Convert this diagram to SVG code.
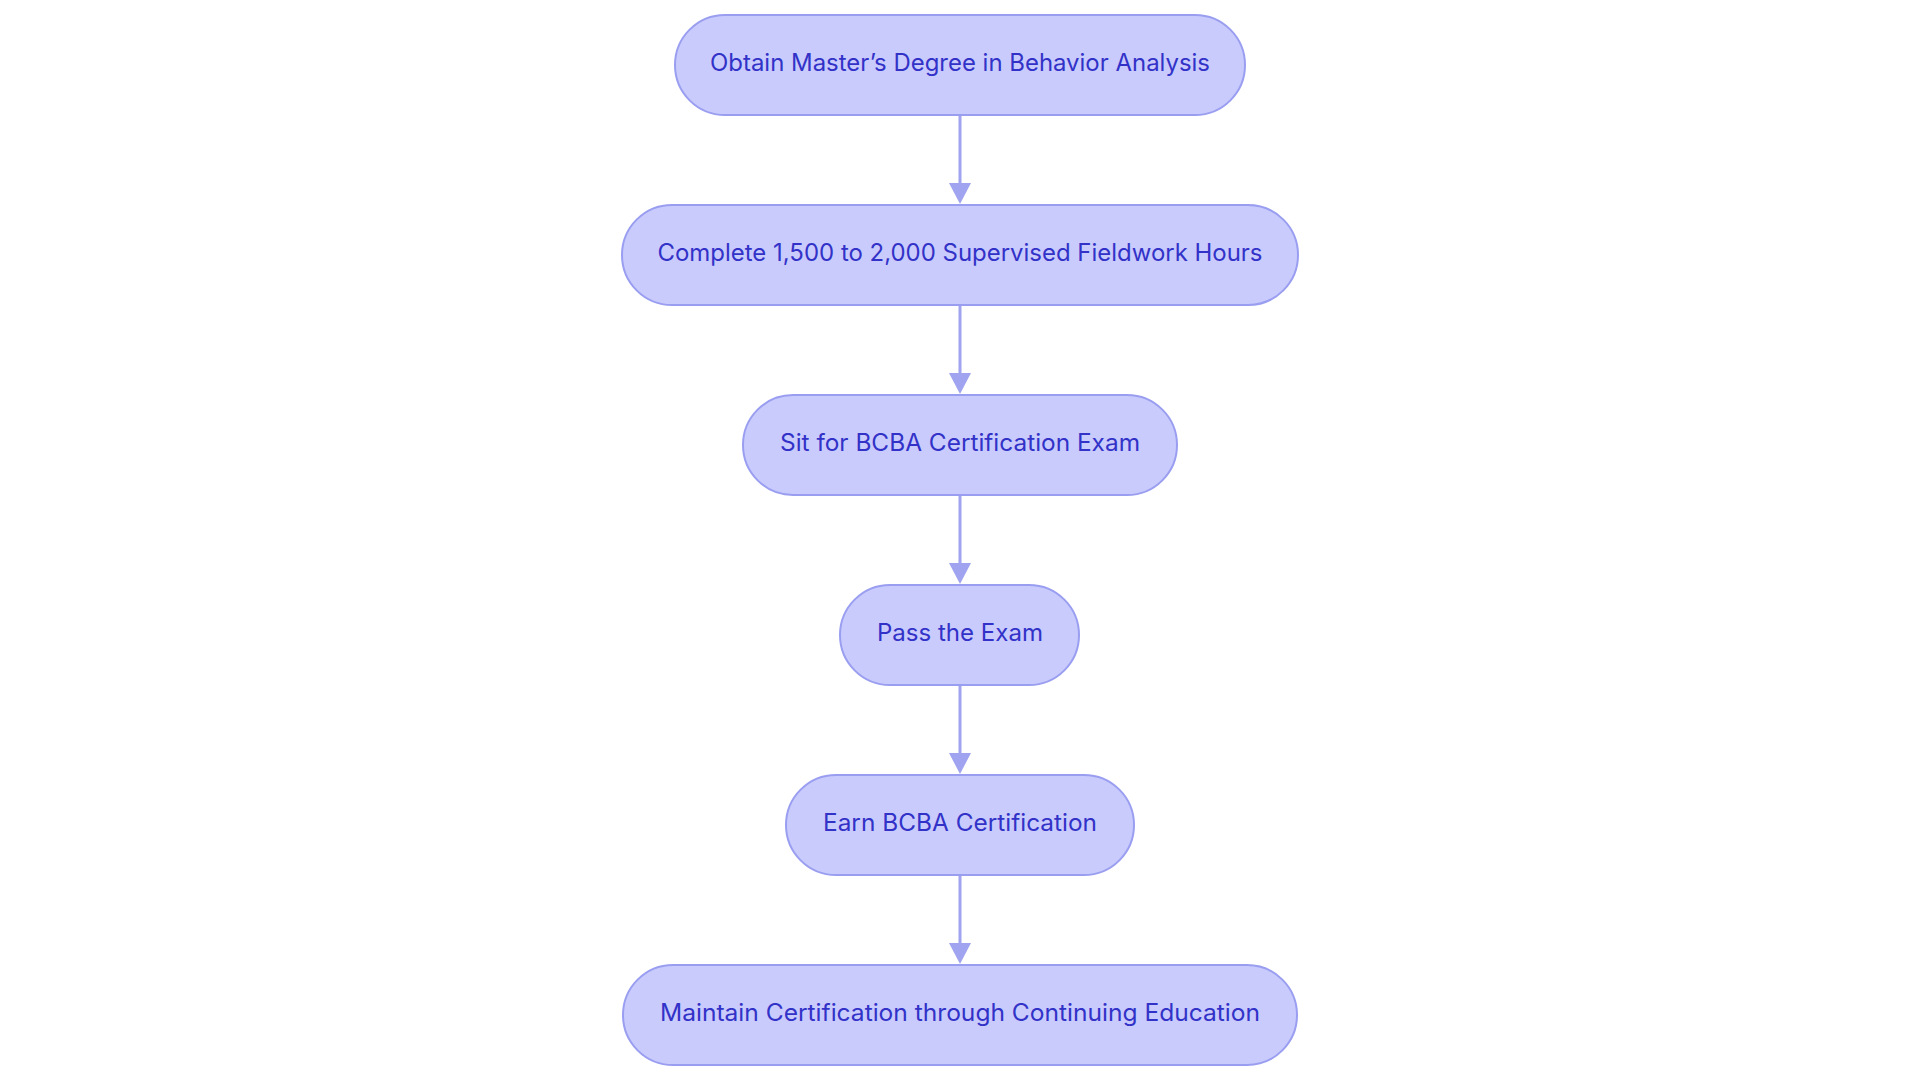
<svg xmlns="http://www.w3.org/2000/svg" width="1920" height="1083" viewBox="0 0 1920 1083">
<defs>
<style>
.node rect{fill:#c9cbfd;stroke:#9a9ef0;stroke-width:2}
.node text{font-family:"Inter","Noto Sans",sans-serif;font-size:24px;font-weight:400;fill:#3232c8;text-anchor:middle}
.edge{stroke:#9fa3f0;stroke-width:3;fill:none}
.head{fill:#9fa3f0}
</style>
</defs>
<rect width="1920" height="1083" fill="#ffffff"/>
<g id="connectors">
<line class="edge" x1="960" y1="115" x2="960" y2="183"/><path class="head" d="M949,183 L971,183 L960,204 Z"/>
<line class="edge" x1="960" y1="305" x2="960" y2="373"/><path class="head" d="M949,373 L971,373 L960,394 Z"/>
<line class="edge" x1="960" y1="495" x2="960" y2="563"/><path class="head" d="M949,563 L971,563 L960,584 Z"/>
<line class="edge" x1="960" y1="685" x2="960" y2="753"/><path class="head" d="M949,753 L971,753 L960,774 Z"/>
<line class="edge" x1="960" y1="875" x2="960" y2="943"/><path class="head" d="M949,943 L971,943 L960,964 Z"/>
</g>
<g id="n1" class="node"><rect x="675" y="15" width="570" height="100" rx="50"/><text x="960" y="71" textLength="500" lengthAdjust="spacingAndGlyphs">Obtain Master’s Degree in Behavior Analysis</text></g>
<g id="n2" class="node"><rect x="622" y="205" width="676" height="100" rx="50"/><text x="960" y="261" textLength="605" lengthAdjust="spacingAndGlyphs">Complete 1,500 to 2,000 Supervised Fieldwork Hours</text></g>
<g id="n3" class="node"><rect x="743" y="395" width="434" height="100" rx="50"/><text x="960" y="451" textLength="360" lengthAdjust="spacingAndGlyphs">Sit for BCBA Certification Exam</text></g>
<g id="n4" class="node"><rect x="840" y="585" width="239" height="100" rx="50"/><text x="960" y="641" textLength="166" lengthAdjust="spacingAndGlyphs">Pass the Exam</text></g>
<g id="n5" class="node"><rect x="786" y="775" width="348" height="100" rx="50"/><text x="960" y="831" textLength="274" lengthAdjust="spacingAndGlyphs">Earn BCBA Certification</text></g>
<g id="n6" class="node"><rect x="623" y="965" width="674" height="100" rx="50"/><text x="960" y="1021" textLength="600" lengthAdjust="spacingAndGlyphs">Maintain Certification through Continuing Education</text></g>
</svg>
